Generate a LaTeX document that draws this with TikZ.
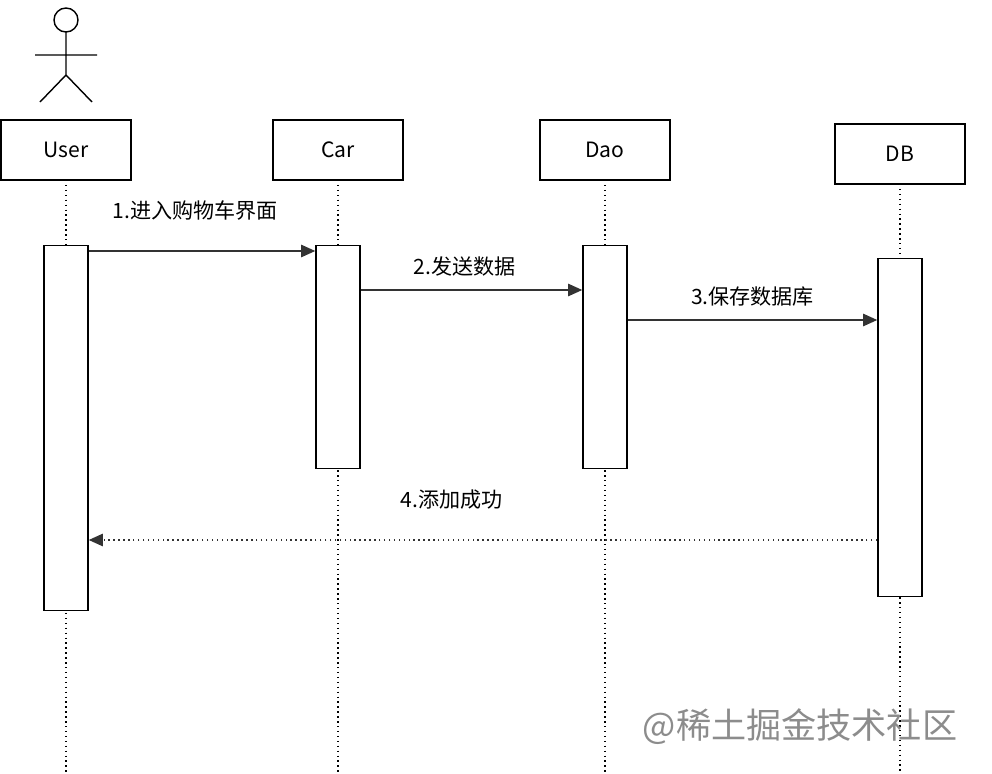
\documentclass[tikz,border=0pt]{standalone}
\usepackage{fontspec}
\setmainfont{Noto Sans CJK SC}
\usetikzlibrary{arrows.meta}
\begin{document}
\begin{tikzpicture}[x=0.02cm,y=-0.02cm,
    objstyle/.style={rectangle, draw=black, fill=white, thick, minimum width=2.6cm, minimum height=1.2cm, font=\large},
    actstyle/.style={rectangle, draw=black, fill=white, thick, minimum width=0.88cm, anchor=north},
    lifestyle/.style={dotted, thick},
    msgstyle/.style={-{Triangle[length=8pt,width=7pt]}, thick, draw=black!80},
    labelstyle/.style={font=\large, anchor=south}
]
    \useasboundingbox (0,0) rectangle (992,774);
    % actor
    \draw[thick] (66,20) circle (12);
    \draw[thick] (66,32) -- (66,75) (35,55) -- (97,55) (40,102) -- (66,75) -- (92,102);
    % lifelines
    \foreach \x/\y in {66/180, 338/180, 605/180, 900/184}
        \draw[lifestyle] (\x,\y) -- (\x,774);
    % objects
    \node[objstyle] (user) at (66,150) {User};
    \node[objstyle] (car) at (338,150) {Car};
    \node[objstyle] (dao) at (605,150) {Dao};
    \node[objstyle] (db) at (900,154) {DB};
    % activations
    \node[actstyle, minimum height=7.3cm] (userA) at (66,245) {};
    \node[actstyle, minimum height=4.46cm] (carA) at (338,245) {};
    \node[actstyle, minimum height=4.46cm] (daoA) at (605,245) {};
    \node[actstyle, minimum height=6.76cm] (dbA) at (900,258) {};
    % messages
    \draw[msgstyle] (userA.north east |- 0,251) -- (carA.north west |- 0,251)
        node[labelstyle, pos=0.47, above=14pt] {1.进入购物车界面};
    \draw[msgstyle] (carA.east |- 0,290) -- (daoA.west |- 0,290)
        node[labelstyle, pos=0.47, above=4pt] {2.发送数据};
    \draw[msgstyle] (daoA.east |- 0,320) -- (dbA.west |- 0,320)
        node[labelstyle, midway, above=4pt] {3.保存数据库};
    \draw[msgstyle, dotted] (dbA.west |- 0,540) -- (userA.east |- 0,540)
        node[labelstyle, pos=0.54, above=14pt] {4.添加成功};
    \node[font=\fontsize{20}{24}\selectfont, text=black!45] (mark) at (800,727) {@稀土掘金技术社区};
\end{tikzpicture}
\end{document}
